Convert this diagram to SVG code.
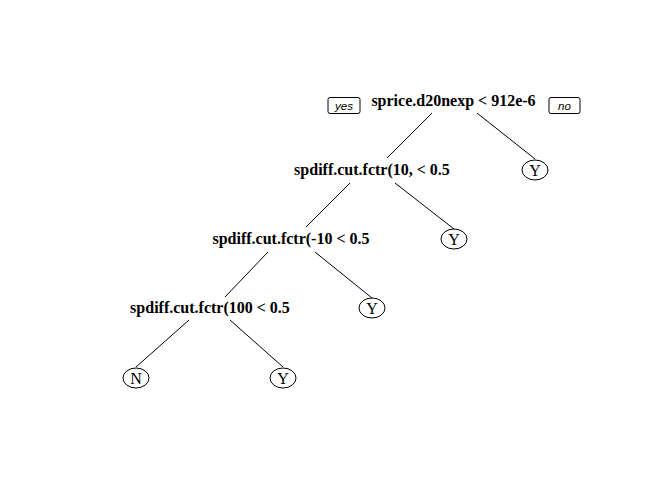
<svg xmlns="http://www.w3.org/2000/svg" width="672" height="480" viewBox="0 0 672 480">
<style>
.split{font-family:"Liberation Serif",serif;font-weight:bold;font-size:16px;text-anchor:middle}
.leaf{font-family:"Liberation Serif",serif;font-size:16px;text-anchor:middle}
.lab{font-family:"Liberation Sans",sans-serif;font-style:italic;font-size:11.5px;text-anchor:middle}
.box{fill:#fff;stroke:#000;stroke-width:1}
line{stroke:#000;stroke-width:1}
</style>
<rect width="672" height="480" fill="#fff"/>
<g id="connectors">
<line x1="432" y1="113" x2="387" y2="158"/>
<line x1="477" y1="113" x2="535" y2="159"/>
<line x1="350" y1="183" x2="306" y2="227"/>
<line x1="395" y1="183" x2="454" y2="229"/>
<line x1="268" y1="252" x2="225" y2="297"/>
<line x1="315" y1="252" x2="372" y2="298"/>
<line x1="189" y1="320" x2="136" y2="367"/>
<line x1="230" y1="320" x2="283" y2="367"/>
</g>
<g id="yes"><rect class="box" x="328" y="97.5" width="32" height="16" rx="2"/><text class="lab" x="344" y="109.5">yes</text></g>
<g id="no"><rect class="box" x="549" y="97.5" width="31" height="16" rx="2"/><text class="lab" x="564.5" y="109.5">no</text></g>
<g id="n1"><text class="split" x="453.5" y="106">sprice.d20nexp &lt; 912e-6</text></g>
<g id="n2"><text class="split" x="372" y="175">spdiff.cut.fctr(10, &lt; 0.5</text></g>
<g id="n3"><ellipse class="box" cx="535" cy="170" rx="13" ry="10"/><text class="leaf" x="535" y="175.5">Y</text></g>
<g id="n4"><text class="split" x="291" y="244">spdiff.cut.fctr(-10 &lt; 0.5</text></g>
<g id="n5"><ellipse class="box" cx="454" cy="239" rx="13" ry="10"/><text class="leaf" x="454" y="244.5">Y</text></g>
<g id="n6"><text class="split" x="210" y="313">spdiff.cut.fctr(100 &lt; 0.5</text></g>
<g id="n7"><ellipse class="box" cx="372" cy="308" rx="13" ry="10"/><text class="leaf" x="372" y="313.5">Y</text></g>
<g id="n8"><ellipse class="box" cx="136" cy="378" rx="13" ry="10"/><text class="leaf" x="136" y="383.5">N</text></g>
<g id="n9"><ellipse class="box" cx="283" cy="378" rx="13" ry="10"/><text class="leaf" x="283" y="383.5">Y</text></g>
</svg>
